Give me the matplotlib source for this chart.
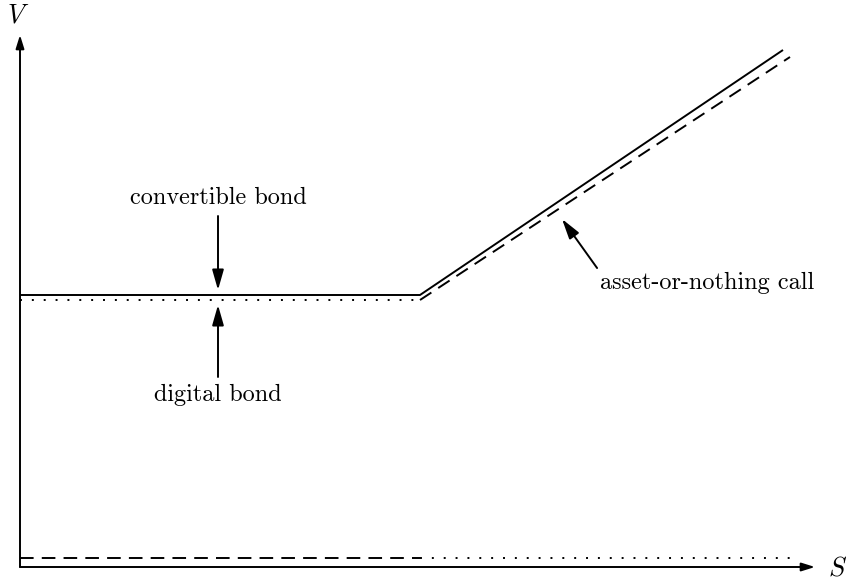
import numpy as np
import matplotlib.pyplot as plt

plt.rcParams['font.family'] = 'cmr10'
plt.rcParams['mathtext.fontset'] = 'cm'
plt.rcParams['axes.unicode_minus'] = False

# payoff sketch values (S, V)
strike = 400
bond = 272
s_end_conv = 763
v_end_conv = 517
s_end_aon = 770
v_end_aon = 510
v_low = 9
bond_digital = 267
s_max = 770

conv_s = [0, strike, s_end_conv]
conv_v = [bond, bond, v_end_conv]
aon_lo_s = [0, strike]
aon_lo_v = [v_low, v_low]
aon_hi_s = [strike, s_end_aon]
aon_hi_v = [bond_digital, v_end_aon]
dig_hi_s = [0, strike]
dig_hi_v = [bond_digital, bond_digital]
dig_lo_s = [strike, s_max]
dig_lo_v = [v_low, v_low]

fig = plt.figure(figsize=(8.46, 5.81), dpi=100)
ax = fig.add_axes([0, 0, 1, 1])
ax.set_xlim(-20, 826)
ax.set_ylim(-14, 567)
ax.axis('off')

lw = 1.4
ax.plot(conv_s, conv_v, color='black', lw=lw, solid_capstyle='butt')
ax.plot(aon_lo_s, aon_lo_v, color='black', lw=lw, dashes=(7, 4.2))
ax.plot(aon_hi_s, aon_hi_v, color='black', lw=lw, dashes=(7, 4.2))
ax.plot(dig_hi_s, dig_hi_v, color='black', lw=lw, dashes=(1, 5.1))
ax.plot(dig_lo_s, dig_lo_v, color='black', lw=lw, dashes=(1, 5.1))

# axes with arrows
arr = dict(arrowstyle='-|>,head_length=0.8,head_width=0.25', color='black',
           lw=1.4, shrinkA=0, shrinkB=0)
ax.annotate('', xy=(0, 532), xytext=(0, 0), arrowprops=arr)
ax.annotate('', xy=(795, 0), xytext=(0, 0), arrowprops=arr)
ax.text(-2, 551, '$V$', fontsize=19, ha='center', va='center')
ax.text(818, -1, '$S$', fontsize=19, ha='center', va='center')

# labels
lab = dict(arr, arrowstyle='-|>,head_length=0.7,head_width=0.2')
ax.annotate('convertible bond', xy=(198, bond + 5), xytext=(198, 369),
            ha='center', va='center', fontsize=17.5,
            arrowprops=dict(lab, shrinkA=3))
ax.annotate('digital bond', xy=(198, bond_digital - 5), xytext=(198, 172),
            ha='center', va='center', fontsize=17.5,
            arrowprops=dict(lab, shrinkA=3))
ax.annotate('asset-or-nothing call', xy=(542, 348), xytext=(687, 284),
            ha='center', va='center', fontsize=17.5,
            arrowprops=dict(lab, shrinkA=1, relpos=(0.0, 1.0)))

fig.savefig('out.png', dpi=100)
